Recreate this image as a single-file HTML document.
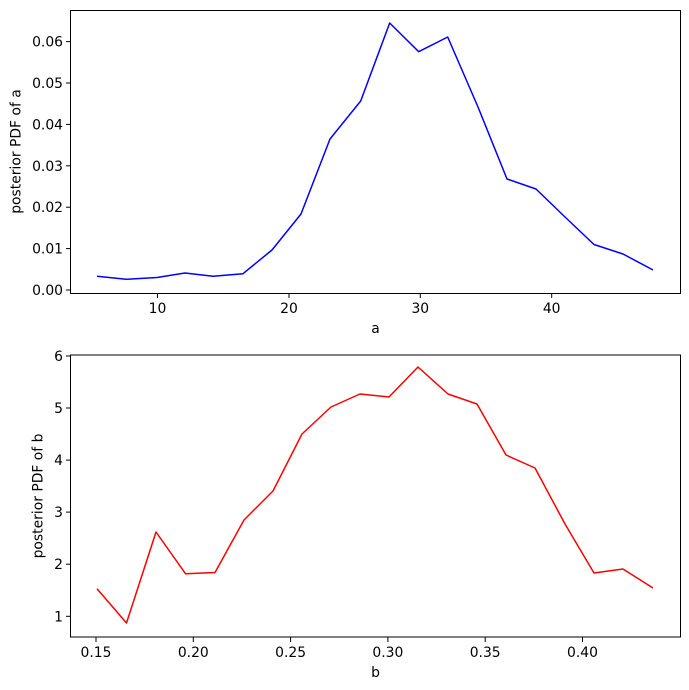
<!DOCTYPE html>
<html><head><style>body{margin:0;background:#fff}svg{display:block}text{font-family:"DejaVu Sans","Liberation Sans",sans-serif;font-size:13.9px;fill:#000}</style></head>
<body>
<svg width="689" height="690" xmlns="http://www.w3.org/2000/svg">
<rect width="689" height="690" fill="#fff"/>
<!-- top -->
<polyline fill="none" stroke="#0000ff" stroke-width="1.5" stroke-linejoin="round" points="97,276.3 126,279.3 157,277.5 185,273 213,276.3 243,273.7 272,250 301,214 330,139 360.7,101 389.7,23 418.7,51.7 447.7,37 478,107 507,179 536,189 565,217 594,244.5 623,254 653,270"/>
<rect x="70.5" y="10.5" width="610" height="283" fill="none" stroke="#000" stroke-width="1"/>
<g stroke="#000" stroke-width="1">
<line x1="66" x2="70.5" y1="290" y2="290"/><line x1="66" x2="70.5" y1="248.6" y2="248.6"/><line x1="66" x2="70.5" y1="207.2" y2="207.2"/><line x1="66" x2="70.5" y1="165.8" y2="165.8"/><line x1="66" x2="70.5" y1="124.4" y2="124.4"/><line x1="66" x2="70.5" y1="83" y2="83"/><line x1="66" x2="70.5" y1="41.6" y2="41.6"/>
<line x1="157.5" x2="157.5" y1="293.5" y2="298"/><line x1="289" x2="289" y1="293.5" y2="298"/><line x1="420.3" x2="420.3" y1="293.5" y2="298"/><line x1="551.7" x2="551.7" y1="293.5" y2="298"/>
</g>
<g text-anchor="end">
<text x="63" y="295">0.00</text><text x="63" y="253.6">0.01</text><text x="63" y="212.2">0.02</text><text x="63" y="170.8">0.03</text><text x="63" y="129.4">0.04</text><text x="63" y="88">0.05</text><text x="63" y="46.6">0.06</text>
</g>
<g text-anchor="middle">
<text x="157.5" y="313">10</text><text x="289" y="313">20</text><text x="420.3" y="313">30</text><text x="551.7" y="313">40</text>
<text x="375.5" y="333">a</text>
<text transform="translate(20.5,151.5) rotate(-90)">posterior PDF of a</text>
</g>
<!-- bottom -->
<polyline fill="none" stroke="#ff0000" stroke-width="1.5" stroke-linejoin="round" points="97,588.7 126.5,623 156,532 185.5,573.7 215,572.5 244,520 273,491 302,434 331,407 360,394 389,397 418,367 448,394 477,404 506,455 535,468 565,524 594,573 623,569 653,588"/>
<rect x="70.5" y="355" width="610" height="282" fill="none" stroke="#000" stroke-width="1"/>
<g stroke="#000" stroke-width="1">
<line x1="66" x2="70.5" y1="616.3" y2="616.3"/><line x1="66" x2="70.5" y1="564.2" y2="564.2"/><line x1="66" x2="70.5" y1="512.1" y2="512.1"/><line x1="66" x2="70.5" y1="460.1" y2="460.1"/><line x1="66" x2="70.5" y1="408" y2="408"/><line x1="66" x2="70.5" y1="356" y2="356"/>
<line x1="96" x2="96" y1="637.5" y2="642"/><line x1="193.3" x2="193.3" y1="637.5" y2="642"/><line x1="290.6" x2="290.6" y1="637.5" y2="642"/><line x1="387.9" x2="387.9" y1="637.5" y2="642"/><line x1="485.2" x2="485.2" y1="637.5" y2="642"/><line x1="582.5" x2="582.5" y1="637.5" y2="642"/>
</g>
<g text-anchor="end">
<text x="63" y="621.3">1</text><text x="63" y="569.2">2</text><text x="63" y="517.1">3</text><text x="63" y="465.1">4</text><text x="63" y="413">5</text><text x="63" y="361">6</text>
</g>
<g text-anchor="middle">
<text x="96" y="657">0.15</text><text x="193.3" y="657">0.20</text><text x="290.6" y="657">0.25</text><text x="387.9" y="657">0.30</text><text x="485.2" y="657">0.35</text><text x="582.5" y="657">0.40</text>
<text x="375.5" y="677">b</text>
<text transform="translate(42.5,496) rotate(-90)">posterior PDF of b</text>
</g>
</svg>
</body></html>
